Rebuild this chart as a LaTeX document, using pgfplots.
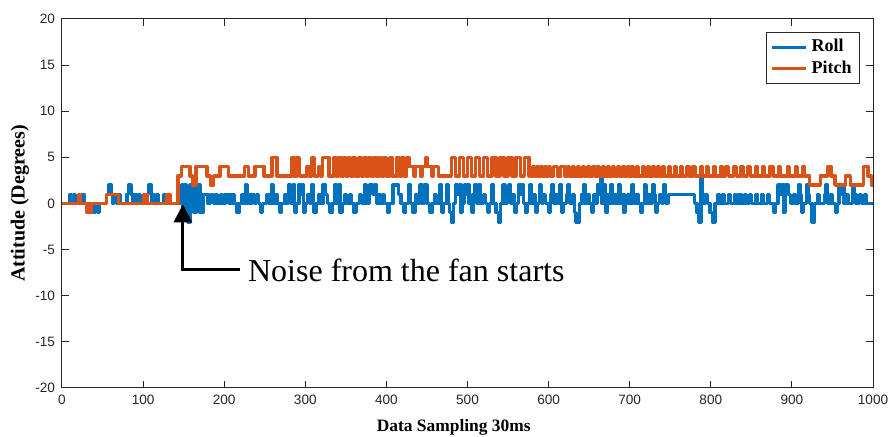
\documentclass[border=0pt]{standalone}
\usepackage{fontspec}
\setmainfont{Liberation Serif}
\newfontfamily\ticksans{Liberation Sans}
\usepackage{pgfplots}
\pgfplotsset{compat=1.18}
\usetikzlibrary{arrows.meta}
\definecolor{mblue}{rgb}{0,0.447,0.741}
\definecolor{morange}{rgb}{0.85,0.325,0.098}
\definecolor{axgray}{rgb}{0.15,0.15,0.15}
\begin{document}
\begin{tikzpicture}
\begin{axis}[
  scale only axis,
  width=405.5pt, height=184.5pt,
  xmin=0, xmax=1000, ymin=-20, ymax=20,
  xtick={0,100,...,1000}, ytick={-20,-15,...,20},
  tick align=inside, major tick length=3.5pt,
  axis line style={axgray, line width=0.5pt},
  every tick/.style={axgray, line width=0.5pt},
  /pgf/number format/assume math mode=true,
  /pgf/number format/1000 sep={},
  ticklabel style={font=\ticksans\fontsize{6.8}{8}\selectfont, text=axgray},
  xlabel={Data Sampling 30ms},
  ylabel={Attitude (Degrees)},
  xlabel style={font=\bfseries\fontsize{8.7}{10}\selectfont, at={(axis description cs:0.483,-0.1057)}, anchor=center},
  ylabel style={font=\bfseries\fontsize{10}{12}\selectfont, at={(axis description cs:-0.0518,0.5)}, anchor=center},
  legend style={at={(axis description cs:0.984,0.965)}, anchor=north east, draw=axgray, line width=0.5pt,
    font=\bfseries\fontsize{9}{10.5}\selectfont, inner xsep=2pt, inner ysep=1.5pt, row sep=-1pt},
  legend cell align=left,
  legend image code/.code={\draw[#1, line width=1.6pt] (0pt,0pt) -- (17pt,0pt);},
  clip=true,
]
\addplot[const plot, mblue, line width=1.7pt, line join=round] coordinates {
(0,0) (10,1) (12,0) (14,1) (17,0) (20,1) (22,0) (25,1) (27,0)
(38,-1) (41,0) (44,-1) (46,0)
(55,1) (58,2) (61,1) (63,0) (65,1) (67,0) (70,1) (72,0)
(80,1) (82,2) (85,1) (87,0) (89,1) (91,0) (95,1) (97,0)
(105,1) (107,2) (110,0) (112,1) (114,0) (117,1) (119,0) (125,1) (127,0) (132,1) (134,0)
(146,1) (148,2) (149,-1) (151,2) (153,0) (155,-2) (158,2) (161,0) (163,-1) (165,2) (170,-1) (174,1) (180,0)
(183,1) (187,0) (190,1) (192,0) (196,1) (198,0) (201,1) (205,0) (207,1) (209,0) (211,1) (213,0)
(216,-1) (218,0) (221,1) (223,0) (226,2) (228,0) (231,1) (233,0) (235,1) (237,0) (240,1) (242,0)
(245,-1) (247,0) (252,1) (255,0) (258,2) (260,0) (263,1) (265,0) (268,-1) (270,0) (274,1) (276,0)
(279,2) (282,0) (285,2) (287,-1) (289,0) (292,2) (294,1) (296,2) (298,-1) (300,0) (303,1) (305,0)
(308,2) (310,-1) (313,0) (316,1) (318,0) (322,2) (325,1) (327,0) (330,-1) (333,0) (336,2) (338,0)
(341,2) (343,-1) (346,0) (349,1) (351,0) (355,1) (357,0) (360,-1) (363,0) (367,1) (369,0) (373,2) (375,0)
(379,2) (383,1) (386,2) (388,0) (391,1) (393,0) (396,1) (398,0) (402,-1) (404,0) (408,2) (415,1) (418,0)
(421,-1) (423,0) (427,2) (430,0) (433,-1) (436,1) (438,0) (441,2) (444,0) (447,2) (450,0) (453,-1) (456,0)
(460,1) (462,0) (466,2) (468,-1) (470,0) (474,2) (476,0) (478,-1) (480,-2) (483,0) (485,2) (488,1) (490,2)
(492,-1) (494,0) (496,2) (498,1) (500,2) (502,0) (505,-1) (507,1) (509,2) (511,0) (514,2) (516,0) (520,1)
(522,0) (525,-1) (527,0) (530,2) (532,0) (535,-1) (538,-2) (541,0) (544,2) (546,0) (549,1) (551,2) (553,0)
(556,1) (558,-1) (560,0) (563,2) (565,1) (567,2) (569,0) (572,-1) (574,0) (577,2) (579,0) (582,1) (584,-1)
(586,0) (589,2) (591,0) (594,1) (596,0) (600,-1) (602,1) (604,2) (606,0) (609,1) (611,0) (614,2) (616,-1)
(618,0) (622,1) (624,2) (626,0) (630,1) (632,-1) (634,-2) (638,0) (641,1) (643,2) (645,0) (648,1) (650,0)
(653,-1) (655,1) (657,0) (660,2) (662,1) (664,3) (666,0) (668,2) (670,-1) (672,1) (674,0) (677,2) (679,0)
(682,1) (684,0) (686,2) (688,0) (691,1) (693,-1) (695,0) (698,1) (700,0) (703,2) (705,0) (708,1) (710,0)
(713,-1) (715,0) (718,2) (720,0) (723,1) (725,0) (728,2) (730,1) (732,-1) (734,0) (737,1) (739,0) (742,2)
(744,0) (748,1) (780,0) (783,-1) (785,-2) (788,3) (790,0) (793,1) (796,0) (799,-1) (802,-2) (805,0)
(808,1) (810,0) (815,1) (817,0) (822,1) (824,0) (830,1) (832,0) (835,1) (837,0) (842,1) (844,0) (848,1)
(850,0) (855,1) (857,0) (863,1) (865,0) (870,1) (872,0) (877,-1) (879,0) (883,2) (886,1) (888,2) (890,-1)
(892,2) (895,1) (898,0) (902,1) (904,0) (908,2) (910,1) (912,-1) (914,0) (918,2) (920,1) (922,0) (925,-2)
(928,0) (932,1) (934,0) (940,1) (942,2) (944,0) (948,1) (950,0) (954,-1) (956,0) (958,2) (960,1) (962,2)
(964,0) (968,1) (970,0) (975,2) (977,1) (979,0) (983,1) (986,0) (990,1) (992,0) (1000,0)
};
\addlegendentry{Roll}
\addplot[const plot, morange, line width=1.7pt, line join=round] coordinates {
(0,0) (20,1) (23,0) (31,-1) (36,0) (55,1) (70,0) (101,1) (105,0) (129,1) (133,0)
(143,3) (147,4) (158,3) (161,2) (165,4) (179,3) (183,2) (187,3) (195,4) (205,3) (225,4) (230,3)
(238,4) (249,3) (259,5) (265,3) (283,5) (286,3) (290,5) (293,3) (302,4) (305,3) (308,5) (311,3)
(316,4) (319,3) (321,5) (329,3) (335,5) (338,3) (341,5) (344,3) (347,5) (350,3) (353,5) (356,3)
(359,5) (362,3) (366,5) (369,3) (372,5) (375,3) (378,5) (381,3) (384,5) (387,3) (391,5) (394,3)
(397,5) (400,3) (404,5) (407,3) (413,5) (416,3) (419,5) (422,3) (425,5) (428,4) (434,3) (436,4)
(442,3) (444,4) (448,5) (450,4) (456,3) (458,4) (464,3) (480,5) (485,3) (490,5) (495,3) (500,5)
(505,3) (510,5) (515,3) (520,5) (525,3) (530,5) (535,3) (540,5) (545,3) (550,5) (555,3) (560,5)
(565,3) (570,5) (576,3) (580,4) (582,3) (585,4) (587,3) (590,4) (592,3) (595,4) (597,3) (600,4)
(602,3) (606,4) (611,3) (615,4) (620,3) (624,4) (626,3) (630,4) (632,3) (636,4) (638,3) (642,4)
(644,3) (648,4) (650,3) (654,4) (657,3) (661,4) (663,3) (667,4) (669,3) (673,4) (675,3) (679,4)
(681,3) (685,4) (687,3) (691,4) (693,3) (697,4) (699,3) (703,4) (705,3) (709,4) (711,3) (716,4)
(718,3) (722,4) (724,3) (728,4) (730,3) (735,4) (737,3) (741,4) (743,3) (748,4) (750,3) (756,4)
(758,3) (763,4) (765,3) (770,4) (773,3) (778,4) (781,3) (787,4) (789,3) (795,4) (797,3) (803,4)
(805,3) (812,4) (814,3) (818,4) (822,3) (828,4) (832,3) (837,4) (840,3) (845,4) (849,3) (855,4)
(857,3) (864,4) (866,3) (873,4) (877,3) (884,4) (886,3) (895,4) (897,3) (905,4) (907,3) (913,4)
(915,3) (922,2) (935,3) (944,4) (948,3) (953,2) (966,3) (972,2) (988,4) (994,3) (998,2) (1000,2)
};
\addlegendentry{Pitch}
\draw[black, line width=1.5pt, -{Triangle[width=9pt,length=9pt]}]
  (axis cs:219,-7.2) -- (axis cs:149,-7.2) -- (axis cs:149,-0.1);
\node[anchor=west, font=\fontsize{16}{18}\selectfont, inner sep=0pt] at (axis cs:229,-7.2) {Noise from the fan starts};
\coordinate (sw) at (rel axis cs:0,0);
\coordinate (ne) at (rel axis cs:1,1);
\end{axis}
\pgfresetboundingbox
\path (sw) ++(-31pt,-24.5pt) coordinate (bbsw);
\path (ne) ++(10pt,9.5pt) coordinate (bbne);
\path (bbsw) rectangle (bbne);
\end{tikzpicture}
\end{document}
